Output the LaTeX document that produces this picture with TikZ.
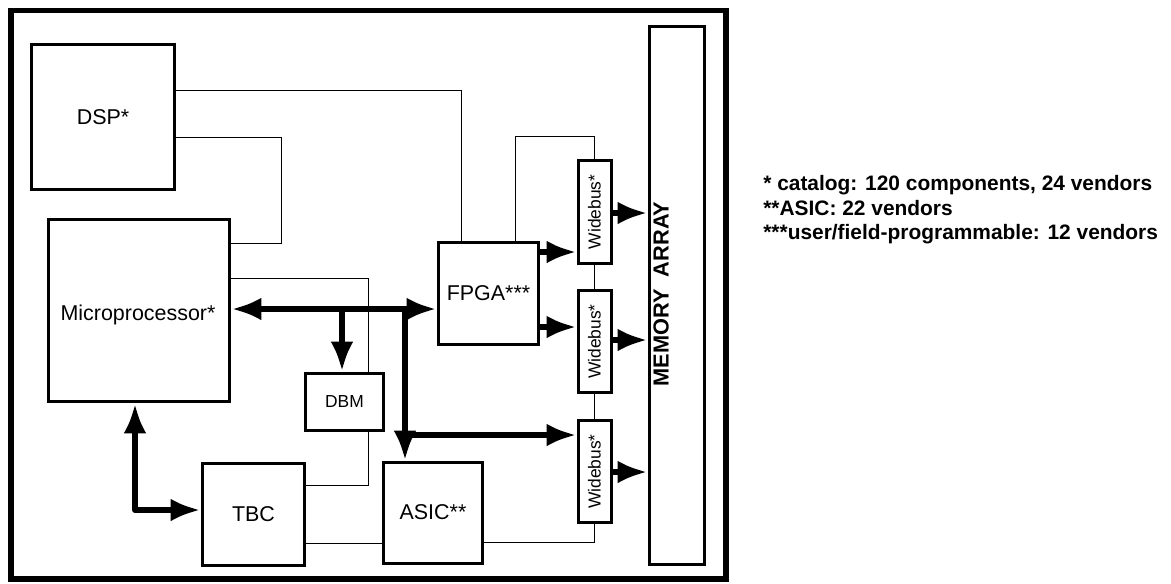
\documentclass[tikz,border=0pt]{standalone}
\usepackage{fontspec}
\setmainfont{Liberation Sans}
\usetikzlibrary{arrows.meta}

\begin{document}
\begin{tikzpicture}[x=0.02cm,y=-0.02cm,
    blk/.style={draw,line width=0.06cm,inner sep=0pt,font=\fontsize{12.2pt}{14pt}\selectfont},
    small/.style={font=\fontsize{9.9pt}{12pt}\selectfont},
    wire/.style={line width=0.45pt},
    bus/.style={line width=0.12cm,line join=round,
      >={Latex[length=0.6cm,width=0.46cm]}},
    note/.style={anchor=base west,inner sep=0pt,font=\fontsize{11.9pt}{14pt}\bfseries\selectfont}]
    \useasboundingbox (0,0) rectangle (1171,583);
    \draw[line width=0.11cm] (11,10.5) rectangle (726,579);
    % blocks
    \node[blk,minimum width=2.88cm,minimum height=2.92cm] (dsp) at (103,117) {DSP*};
    \node[blk,minimum width=3.64cm,minimum height=3.66cm] (up) at (139,310.5) {};
    \node[inner sep=0pt,font=\fontsize{12.2pt}{14pt}\selectfont] (uptxt) at (138,315) {Microprocessor*};
    \node[blk,small,minimum width=1.58cm,minimum height=1.14cm] (dbm) at (344.5,401.5) {DBM};
    \node[blk,minimum width=2.06cm,minimum height=2.04cm] (tbc) at (253.5,514) {TBC};
    \node[blk,minimum width=2.0cm,minimum height=2.02cm] (asic) at (433,512.5) {ASIC**};
    \node[blk,minimum width=2.02cm,minimum height=2.04cm] (fpga) at (488.5,293) {FPGA***};
    \foreach \n/\y in {wb1/212,wb2/341.5,wb3/471.5}
      \node[blk,small,minimum width=0.66cm,minimum height=2.05cm] (\n) at (594.5,\y)
        {\rotatebox{90}{Widebus*}};
    \node[blk,minimum width=1.12cm,minimum height=10.78cm] (mem) at (677,295.5) {};
    \node[rotate=90,inner sep=0pt,font=\fontsize{12.4pt}{14pt}\bfseries\selectfont]
      (memtxt) at (661,294) {MEMORY\ \ ARRAY};
    % thin lines
    \draw[wire] (dsp.east |- 0,90) -| (fpga.north -| 461,0);
    \draw[wire] (dsp.east |- 0,137) -- (281,137) |- (up.east |- 0,243);
    \draw[wire] (up.east |- 0,278) -| (dbm.north -| 368,0);
    \draw[wire] (dbm.south -| 368,0) |- (tbc.east |- 0,485);
    \draw[wire] (tbc.east |- 0,543) -- (asic.west |- 0,543);
    \draw[wire] (asic.east |- 0,542) -| (wb3.south);
    \draw[wire] (fpga.north -| 515,0) |- (wb1.north |- 0,136) -- (wb1.north);
    \draw[wire] (wb1.south) -- (wb2.north);
    \draw[wire] (wb2.south) -- (wb3.north);
    % buses
    \coordinate (j1) at (342,309);
    \coordinate (j2) at (405,309);
    \coordinate (j3) at (405,435);
    \draw[bus,<->] (up.east |- j1) -- (fpga.west |- j1);
    \draw[bus,->] (j1) -- (dbm.north -| j1);
    \draw[bus,->] (j2) -- (asic.north -| j2);
    \draw[bus,->] (j3) -- (wb3.west |- j3);
    \draw[bus,<->] (up.south -| 135,0) |- (tbc.west |- 0,510);
    \draw[bus,->] (fpga.east |- 0,252) -- (wb1.west |- 0,252);
    \draw[bus,->] (fpga.east |- 0,327) -- (wb2.west |- 0,327);
    \draw[bus,->] (wb1.east |- 0,213) -- (mem.west |- 0,213);
    \draw[bus,->] (wb2.east |- 0,340) -- (mem.west |- 0,340);
    \draw[bus,->] (wb3.east |- 0,472) -- (mem.west |- 0,472);
    % legend
    \node[note] (n1) at (763,190.5) {* catalog: 120 components, 24 vendors};
    \node[note] (n2) at (763,215.5) {**ASIC: 22 vendors};
    \node[note] (n3) at (763,239.5) {***user/field-programmable: 12 vendors};
\end{tikzpicture}
\end{document}
